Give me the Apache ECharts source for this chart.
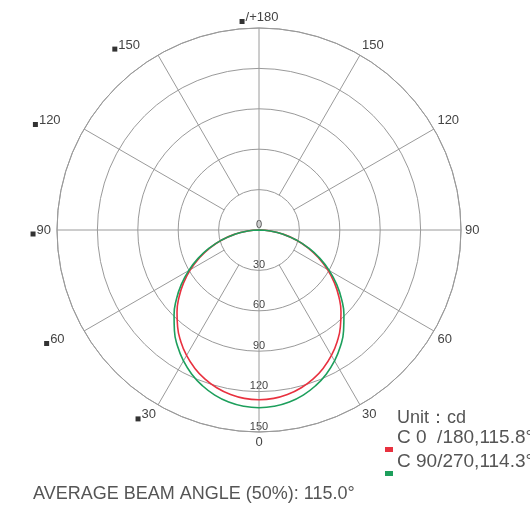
<!DOCTYPE html>
<html><head><meta charset="utf-8">
<script src="https://cdn.jsdelivr.net/npm/echarts@6/dist/echarts.min.js"></script>
<style>html,body{margin:0;padding:0;background:#fff}#c{width:530px;height:513px}</style>
</head><body><div id="c"></div>
<script>
// ---- data ----
const gammaAngles = [0,5,10,15,20,25,30,35,40,45,50,55,60,65,70,75,80,85,90];
const c0_180  = [126,125.5,123.9,121.3,117.7,113.1,107.6,101.2,94.0,86.1,77.5,68.4,58.8,48.8,38.7,28.5,18.4,8.6,0];
const c90_270 = [132,131.4,129.7,126.9,123.0,118.1,112.2,105.4,97.7,89.2,80.1,70.4,60.3,49.9,39.3,28.7,18.3,8.4,0];
const seriesNames = ['C 0  /180,115.8°', 'C 90/270,114.3°'];
const seriesColors = ['#e8313f', '#1d9f5c'];
const radiusMax = 150, radiusStep = 30;
const angleStep = 30;
const innerSpokeAngles = [30,60,120,150,210,240,300,330];
const fullSpokeAngles = [0,90,180,270];
const unitText = 'Unit：cd';
const beamText = 'AVERAGE BEAM ANGLE (50%): 115.0°';

// ---- build ----
function curve(vals){
  const d = [];
  for (let i = gammaAngles.length - 1; i >= 1; i--) d.push([vals[i], 360 - gammaAngles[i]]);
  for (let i = 0; i < gammaAngles.length; i++) d.push([vals[i], gammaAngles[i]]);
  return d;
}
const gridColor = '#9a9a9a';
const FF = 'Liberation Sans, Arial, sans-serif';
const spokeSeries = [];
innerSpokeAngles.forEach(a => spokeSeries.push({
  type:'line', coordinateSystem:'polar', silent:true, showSymbol:false, z:1,
  lineStyle:{color:gridColor, width:1}, data:[[radiusStep,a],[radiusMax,a]]
}));
fullSpokeAngles.forEach(a => spokeSeries.push({
  type:'line', coordinateSystem:'polar', silent:true, showSymbol:false, z:1,
  lineStyle:{color:gridColor, width:1}, data:[[0,a],[radiusMax,a]]
}));
const curveSeries = [c0_180, c90_270].map((v,i) => ({
  name: seriesNames[i], type:'line', coordinateSystem:'polar', showSymbol:false, smooth:true, z:3,
  lineStyle:{color:seriesColors[i], width:1.6}, itemStyle:{color:seriesColors[i]}, data: curve(v)
}));

const padMap = {150:[0,16,0,1], 120:[0,20,0,1], 90:[0,2,0,1], 60:[0,16,0,1], 30:[0,0,0,1]};
const rich = {
  sq:{width:5, height:5, backgroundColor:'#333', verticalAlign:'bottom'},
  t:{fontSize:13, color:'#444', padding:[0,0,0,1]}
};
Object.keys(padMap).forEach(k => rich['l'+k] = {fontSize:13, color:'#444', padding:padMap[k]});

const chart = echarts.init(document.getElementById('c'));
chart.setOption({
  animation:false,
  backgroundColor:'#fff',
  textStyle:{fontFamily:FF},
  title:[
    {text:unitText, left:397, top:409, padding:0, textStyle:{fontSize:18, fontWeight:'normal', color:'#555', fontFamily:FF}},
    {text:beamText, left:33, top:485, padding:0, textStyle:{fontSize:18, fontWeight:'normal', color:'#555', fontFamily:FF}}
  ],
  legend:{
    data:seriesNames, orient:'vertical', left:385, top:423, padding:0,
    icon:'path://M0,0M0,24L8,24L8,29L0,29Z', itemWidth:8, itemHeight:29, itemGap:-5,
    itemStyle:{borderWidth:0},
    textStyle:{fontSize:19, color:'#555', fontFamily:FF, padding:[0,0,0,-1]}
  },
  polar:{center:[259,230], radius:202},
  angleAxis:{
    type:'value', min:0, max:360, interval:angleStep, startAngle:-90, clockwise:false,
    axisLine:{show:true, lineStyle:{color:gridColor, width:1}},
    axisTick:{show:false}, splitLine:{show:false},
    axisLabel:{
      margin:4, fontSize:13, color:'#444', rich:rich,
      formatter:function(v){
        if (v === 360) return '';
        if (v === 180) return '{sq|}{t|/+180}';
        if (v > 180) { const k = 360 - v; return '{sq|}{l' + k + '|' + k + '}'; }
        return String(v);
      }
    }
  },
  radiusAxis:{
    type:'value', min:0, max:radiusMax, interval:radiusStep,
    axisLine:{show:false}, axisTick:{show:false},
    splitLine:{show:true, lineStyle:{color:gridColor, width:1}},
    axisLabel:{margin:0, align:'center', verticalAlign:'bottom', fontSize:11, color:'#444'}
  },
  series: spokeSeries.concat(curveSeries)
});
</script></body></html>
